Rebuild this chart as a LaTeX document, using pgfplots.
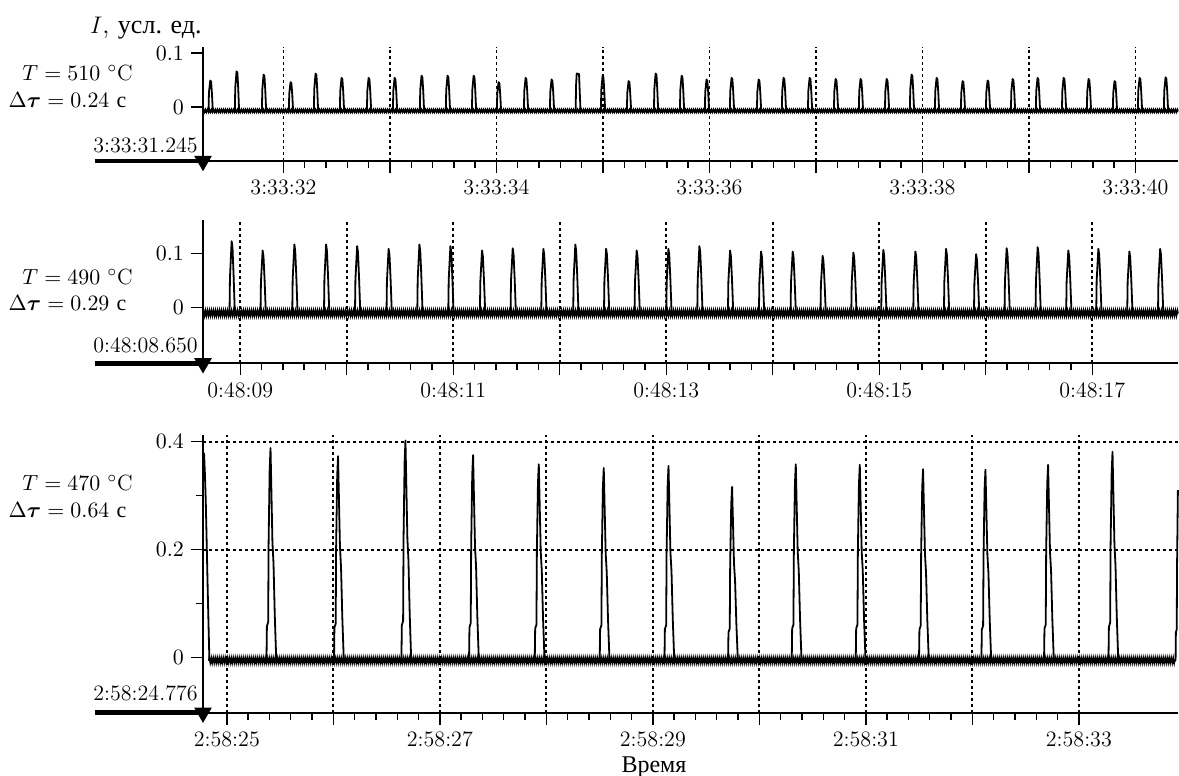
\documentclass[border=0pt]{standalone}
\usepackage{amsmath}
\usepackage{fontspec}
\newfontfamily\cyr{Liberation Serif}
\usepackage{pgfplots}
\pgfplotsset{compat=1.18}
\usetikzlibrary{decorations.pathmorphing}
\newcommand{\fs}{\fontsize{11}{13}\selectfont}
\pgfplotsset{
  panel/.style={
    scale only axis, width=487.5pt,
    axis lines*=left,
    axis line style={line width=0.9pt},
    tick align=outside,
    major tick length=6pt, minor tick length=3.5pt,
    tick style={black, line width=0.7pt},
    minor x tick num=4,
    xmajorgrids,
    major grid style={black, line width=0.9pt, dash pattern=on 1.5pt off 1.5pt},
    tick label style={font=\fs},
    clip=false,
    anchor=south west,
  },
  trace/.style={black, line width=0.9pt, line join=round},
  noise/.style 2 args={black, line width=0.7pt, decorate, decoration={zigzag, segment length=#1, amplitude=#2}},
  startline/.style={black, line width=2.3pt},
  startmark/.style={only marks, mark=triangle*, mark size=4.6pt, mark options={rotate=180, fill=black, draw=black, line width=0.5pt}},
}
\begin{document}
\begin{tikzpicture}
\useasboundingbox (0,0) rectangle (589.5pt,-388pt);

% ---------------- panel 1 ----------------
\begin{axis}[panel, at={(101.5pt,-80.5pt)}, height=57.24pt,
  xmin=31.245, xmax=40.4, ymin=-0.1, ymax=0.112,
  xtick={32,33,...,40}, xticklabels={3:33:32,{},3:33:34,{},3:33:36,{},3:33:38,{},3:33:40},
  ytick={0,0.1}]
\addplot[noise={1.0pt}{0.7pt}] coordinates {(31.245,-0.007) (40.4,-0.007)};
\addplot[noise={1.7pt}{0.45pt}] coordinates {(31.245,-0.008) (40.4,-0.008)};
\addplot[trace] coordinates {
(31.245,-0.007)
(31.297,-0.007)(31.301,0.027)(31.313,0.049)(31.321,0.047)(31.329,0.025)(31.337,-0.007)
(31.544,-0.007)(31.548,0.036)(31.560,0.066)(31.568,0.063)(31.576,0.033)(31.584,-0.007)
(31.798,-0.007)(31.802,0.033)(31.814,0.060)(31.822,0.057)(31.830,0.030)(31.838,-0.007)
(32.051,-0.007)(32.055,0.025)(32.067,0.046)(32.075,0.044)(32.083,0.023)(32.091,-0.007)
(32.286,-0.007)(32.290,0.034)(32.302,0.062)(32.310,0.059)(32.318,0.031)(32.326,-0.007)
(32.530,-0.007)(32.534,0.030)(32.546,0.054)(32.554,0.051)(32.562,0.027)(32.570,-0.007)
(32.784,-0.007)(32.788,0.030)(32.800,0.054)(32.808,0.051)(32.816,0.027)(32.824,-0.007)
(33.028,-0.007)(33.032,0.030)(33.044,0.054)(33.052,0.051)(33.060,0.027)(33.068,-0.007)
(33.281,-0.007)(33.285,0.032)(33.297,0.058)(33.305,0.055)(33.313,0.029)(33.321,-0.007)
(33.525,-0.007)(33.529,0.032)(33.541,0.058)(33.549,0.055)(33.557,0.029)(33.565,-0.007)
(33.770,-0.007)(33.774,0.032)(33.786,0.058)(33.794,0.055)(33.802,0.029)(33.810,-0.007)
(34.004,-0.007)(34.008,0.025)(34.020,0.046)(34.028,0.044)(34.036,0.023)(34.044,-0.007)
(34.258,-0.007)(34.262,0.030)(34.274,0.054)(34.282,0.051)(34.290,0.027)(34.298,-0.007)
(34.502,-0.007)(34.506,0.028)(34.518,0.051)(34.526,0.048)(34.534,0.026)(34.542,-0.007)
(34.744,-0.007)(34.748,0.040)(34.754,0.062)(34.776,0.061)(34.782,0.030)(34.790,-0.007)
(34.981,-0.007)(34.985,0.032)(34.997,0.058)(35.005,0.055)(35.013,0.029)(35.021,-0.007)
(35.225,-0.007)(35.229,0.026)(35.241,0.048)(35.249,0.046)(35.257,0.024)(35.265,-0.007)
(35.479,-0.007)(35.483,0.034)(35.495,0.062)(35.503,0.059)(35.511,0.031)(35.519,-0.007)
(35.723,-0.007)(35.727,0.032)(35.739,0.058)(35.747,0.055)(35.755,0.029)(35.763,-0.007)
(35.957,-0.007)(35.961,0.028)(35.973,0.051)(35.981,0.048)(35.989,0.026)(35.997,-0.007)
(36.192,-0.007)(36.196,0.030)(36.208,0.054)(36.216,0.051)(36.224,0.027)(36.232,-0.007)
(36.446,-0.007)(36.450,0.028)(36.462,0.051)(36.470,0.048)(36.478,0.026)(36.486,-0.007)
(36.680,-0.007)(36.684,0.030)(36.696,0.054)(36.704,0.051)(36.712,0.027)(36.720,-0.007)
(36.925,-0.007)(36.929,0.030)(36.941,0.054)(36.949,0.051)(36.957,0.027)(36.965,-0.007)
(37.169,-0.007)(37.173,0.029)(37.185,0.052)(37.193,0.049)(37.201,0.026)(37.209,-0.007)
(37.403,-0.007)(37.407,0.029)(37.419,0.052)(37.427,0.049)(37.435,0.026)(37.443,-0.007)
(37.648,-0.007)(37.652,0.029)(37.664,0.052)(37.672,0.049)(37.680,0.026)(37.688,-0.007)
(37.882,-0.007)(37.886,0.033)(37.898,0.060)(37.906,0.057)(37.914,0.030)(37.922,-0.007)
(38.117,-0.007)(38.121,0.030)(38.133,0.054)(38.141,0.051)(38.149,0.027)(38.157,-0.007)
(38.361,-0.007)(38.365,0.026)(38.377,0.048)(38.385,0.046)(38.393,0.024)(38.401,-0.007)
(38.596,-0.007)(38.600,0.027)(38.612,0.049)(38.620,0.047)(38.628,0.025)(38.636,-0.007)
(38.831,-0.007)(38.835,0.029)(38.847,0.052)(38.855,0.049)(38.863,0.026)(38.871,-0.007)
(39.065,-0.007)(39.069,0.030)(39.081,0.054)(39.089,0.051)(39.097,0.027)(39.105,-0.007)
(39.310,-0.007)(39.314,0.030)(39.326,0.054)(39.334,0.051)(39.342,0.027)(39.350,-0.007)
(39.544,-0.007)(39.548,0.029)(39.560,0.052)(39.568,0.049)(39.576,0.026)(39.584,-0.007)
(39.788,-0.007)(39.792,0.026)(39.804,0.048)(39.812,0.046)(39.820,0.024)(39.828,-0.007)
(40.023,-0.007)(40.027,0.030)(40.039,0.054)(40.047,0.051)(40.055,0.027)(40.063,-0.007)
(40.267,-0.007)(40.271,0.030)(40.283,0.055)(40.291,0.052)(40.299,0.028)(40.307,-0.007)
(40.400,-0.007)};
\addplot[startline] coordinates {(30.231,-0.1) (31.245,-0.1)};
\addplot[startmark] coordinates {(31.245,-0.1)};
\end{axis}

% ---------------- panel 2 ----------------
\begin{axis}[panel, at={(101.5pt,-181.65pt)}, height=71.55pt,
  xmin=8.65, xmax=17.805, ymin=-0.103, ymax=0.162,
  xtick={9,10,...,17}, xticklabels={0:48:09,{},0:48:11,{},0:48:13,{},0:48:15,{},0:48:17},
  ytick={0,0.1}]
\addplot[noise={1.0pt}{1.4pt}] coordinates {(8.65,-0.010) (17.805,-0.010)};
\addplot[noise={1.7pt}{0.9pt}] coordinates {(8.65,-0.011) (17.805,-0.011)};
\addplot[trace] coordinates {
(8.650,-0.010)
(8.899,-0.010)(8.903,0.055)(8.919,0.123)(8.927,0.111)(8.937,0.062)(8.949,-0.010)
(9.190,-0.010)(9.194,0.048)(9.210,0.106)(9.218,0.095)(9.228,0.053)(9.240,-0.010)
(9.488,-0.010)(9.492,0.053)(9.508,0.117)(9.516,0.105)(9.526,0.059)(9.538,-0.010)
(9.786,-0.010)(9.790,0.053)(9.806,0.117)(9.814,0.105)(9.824,0.059)(9.836,-0.010)
(10.077,-0.010)(10.081,0.051)(10.097,0.114)(10.105,0.103)(10.115,0.057)(10.127,-0.010)
(10.373,-0.010)(10.377,0.049)(10.393,0.109)(10.401,0.098)(10.411,0.055)(10.423,-0.010)
(10.662,-0.010)(10.666,0.053)(10.682,0.117)(10.690,0.105)(10.700,0.059)(10.712,-0.010)
(10.953,-0.010)(10.957,0.051)(10.973,0.114)(10.981,0.103)(10.991,0.057)(11.003,-0.010)
(11.250,-0.010)(11.254,0.048)(11.270,0.106)(11.278,0.095)(11.288,0.053)(11.300,-0.010)
(11.538,-0.010)(11.542,0.050)(11.558,0.110)(11.566,0.099)(11.576,0.055)(11.588,-0.010)
(11.826,-0.010)(11.830,0.049)(11.846,0.109)(11.854,0.098)(11.864,0.055)(11.876,-0.010)
(12.126,-0.010)(12.130,0.053)(12.146,0.117)(12.154,0.105)(12.164,0.059)(12.176,-0.010)
(12.415,-0.010)(12.419,0.049)(12.435,0.109)(12.443,0.098)(12.453,0.055)(12.465,-0.010)
(12.702,-0.010)(12.706,0.048)(12.722,0.106)(12.730,0.095)(12.740,0.053)(12.752,-0.010)
(13.000,-0.010)(13.004,0.049)(13.020,0.109)(13.028,0.098)(13.038,0.055)(13.050,-0.010)
(13.291,-0.010)(13.295,0.051)(13.311,0.114)(13.319,0.103)(13.329,0.057)(13.341,-0.010)
(13.579,-0.010)(13.583,0.048)(13.599,0.106)(13.607,0.095)(13.617,0.053)(13.629,-0.010)
(13.870,-0.010)(13.874,0.047)(13.890,0.104)(13.898,0.094)(13.908,0.052)(13.920,-0.010)
(14.167,-0.010)(14.171,0.047)(14.187,0.104)(14.195,0.094)(14.205,0.052)(14.217,-0.010)
(14.448,-0.010)(14.452,0.043)(14.468,0.096)(14.476,0.086)(14.486,0.048)(14.498,-0.010)
(14.737,-0.010)(14.741,0.046)(14.757,0.102)(14.765,0.092)(14.775,0.051)(14.787,-0.010)
(15.018,-0.010)(15.022,0.048)(15.038,0.107)(15.046,0.096)(15.056,0.054)(15.068,-0.010)
(15.319,-0.010)(15.323,0.047)(15.339,0.104)(15.347,0.094)(15.357,0.052)(15.369,-0.010)
(15.607,-0.010)(15.611,0.049)(15.627,0.109)(15.635,0.098)(15.645,0.055)(15.657,-0.010)
(15.889,-0.010)(15.893,0.045)(15.909,0.099)(15.917,0.089)(15.927,0.050)(15.939,-0.010)
(16.176,-0.010)(16.180,0.050)(16.196,0.110)(16.204,0.099)(16.214,0.055)(16.226,-0.010)
(16.467,-0.010)(16.471,0.050)(16.487,0.112)(16.495,0.101)(16.505,0.056)(16.517,-0.010)
(16.755,-0.010)(16.759,0.048)(16.775,0.106)(16.783,0.095)(16.793,0.053)(16.805,-0.010)
(17.037,-0.010)(17.041,0.049)(17.057,0.109)(17.065,0.098)(17.075,0.055)(17.087,-0.010)
(17.328,-0.010)(17.332,0.047)(17.348,0.104)(17.356,0.094)(17.366,0.052)(17.378,-0.010)
(17.617,-0.010)(17.621,0.049)(17.637,0.109)(17.645,0.098)(17.655,0.055)(17.667,-0.010)
(17.805,-0.010)};
\addplot[startline] coordinates {(7.636,-0.103) (8.65,-0.103)};
\addplot[startmark] coordinates {(8.65,-0.103)};
\end{axis}

% ---------------- panel 3 ----------------
\begin{axis}[panel, at={(101.5pt,-356.35pt)}, height=138.78pt,
  xmin=24.776, xmax=33.931, ymin=-0.102, ymax=0.412,
  xtick={25,26,...,33}, xticklabels={2:58:25,{},2:58:27,{},2:58:29,{},2:58:31,{},2:58:33},
  ytick={0.2,0.4}, ymajorgrids, extra y ticks={0}, extra y tick style={grid=none},
  minor ytick={0.1,0.3},
  yticklabel style={/pgf/number format/fixed, /pgf/number format/precision=1}]
\addplot[noise={1.0pt}{1.4pt}] coordinates {(24.83,-0.005) (33.908,-0.005)};
\addplot[noise={1.7pt}{0.9pt}] coordinates {(24.83,-0.006) (33.908,-0.006)};
\addplot[trace] coordinates {
(24.776,0.365)(24.786,0.378)(24.794,0.340)(24.802,0.290)(24.812,0.200)(24.822,0.110)(24.836,-0.005)
(25.372,-0.005)(25.376,0.058)(25.388,0.066)(25.392,0.213)(25.402,0.349)(25.410,0.388)(25.420,0.291)(25.428,0.213)(25.438,0.175)(25.450,0.078)(25.464,-0.005)
(26.006,-0.005)(26.010,0.056)(26.022,0.063)(26.026,0.205)(26.036,0.336)(26.044,0.373)(26.054,0.280)(26.062,0.205)(26.072,0.168)(26.084,0.075)(26.098,-0.005)
(26.639,-0.005)(26.643,0.060)(26.655,0.068)(26.659,0.221)(26.669,0.362)(26.677,0.402)(26.687,0.302)(26.695,0.221)(26.705,0.181)(26.717,0.080)(26.731,-0.005)
(27.274,-0.005)(27.278,0.056)(27.290,0.064)(27.294,0.206)(27.304,0.338)(27.312,0.375)(27.322,0.281)(27.330,0.206)(27.340,0.169)(27.352,0.075)(27.366,-0.005)
(27.891,-0.005)(27.895,0.054)(27.907,0.061)(27.911,0.197)(27.921,0.322)(27.929,0.358)(27.939,0.269)(27.947,0.197)(27.957,0.161)(27.969,0.072)(27.983,-0.005)
(28.501,-0.005)(28.505,0.053)(28.517,0.060)(28.521,0.193)(28.531,0.316)(28.539,0.351)(28.549,0.263)(28.557,0.193)(28.567,0.158)(28.579,0.070)(28.593,-0.005)
(29.109,-0.005)(29.113,0.053)(29.125,0.060)(29.129,0.195)(29.139,0.320)(29.147,0.355)(29.157,0.266)(29.165,0.195)(29.175,0.160)(29.187,0.071)(29.201,-0.005)
(29.706,-0.005)(29.710,0.047)(29.722,0.054)(29.726,0.174)(29.736,0.284)(29.744,0.316)(29.754,0.237)(29.762,0.174)(29.772,0.142)(29.784,0.063)(29.798,-0.005)
(30.304,-0.005)(30.308,0.054)(30.320,0.061)(30.324,0.197)(30.334,0.322)(30.342,0.358)(30.352,0.269)(30.360,0.197)(30.370,0.161)(30.382,0.072)(30.396,-0.005)
(30.905,-0.005)(30.909,0.054)(30.921,0.061)(30.925,0.196)(30.935,0.321)(30.943,0.357)(30.953,0.268)(30.961,0.196)(30.971,0.161)(30.983,0.071)(30.997,-0.005)
(31.499,-0.005)(31.503,0.052)(31.515,0.059)(31.519,0.192)(31.529,0.314)(31.537,0.349)(31.547,0.262)(31.555,0.192)(31.565,0.157)(31.577,0.070)(31.591,-0.005)
(32.085,-0.005)(32.089,0.052)(32.101,0.059)(32.105,0.191)(32.115,0.313)(32.123,0.348)(32.133,0.261)(32.141,0.191)(32.151,0.157)(32.163,0.070)(32.177,-0.005)
(32.673,-0.005)(32.677,0.054)(32.689,0.061)(32.693,0.196)(32.703,0.321)(32.711,0.357)(32.721,0.268)(32.729,0.196)(32.739,0.161)(32.751,0.071)(32.765,-0.005)
(33.278,-0.005)(33.282,0.057)(33.294,0.065)(33.298,0.210)(33.308,0.343)(33.316,0.381)(33.326,0.286)(33.334,0.210)(33.344,0.171)(33.356,0.076)(33.370,-0.005)
(33.908,-0.005)(33.911,0.047)(33.919,0.052)(33.922,0.170)(33.930,0.310)};
\addplot[startline] coordinates {(23.762,-0.102) (24.776,-0.102)};
\addplot[startmark] coordinates {(24.776,-0.102)};
\end{axis}

% ---------------- texts ----------------
\node[font=\fontsize{13}{15}\selectfont, anchor=east, inner sep=0pt] at (101pt,-14pt) {$I$, {\cyr усл. ед.}};
\node[font=\fs] at (38.75pt,-36.5pt) {$T = 510$ $^{\circ}$C};
\node[font=\fs] at (33.75pt,-50pt) {$\Delta\boldsymbol{\tau} = 0.24$ {\cyr с}};
\node[font=\fs, anchor=east, inner sep=0pt] at (99pt,-72.5pt) {3:33:31.245};

\node[font=\fs] at (38.75pt,-138.3pt) {$T = 490$ $^{\circ}$C};
\node[font=\fs] at (33.75pt,-151.5pt) {$\Delta\boldsymbol{\tau} = 0.29$ {\cyr с}};
\node[font=\fs, anchor=east, inner sep=0pt] at (99pt,-172.5pt) {0:48:08.650};

\node[font=\fs] at (38.75pt,-241.5pt) {$T = 470$ $^{\circ}$C};
\node[font=\fs] at (33.75pt,-255pt) {$\Delta\boldsymbol{\tau} = 0.64$ {\cyr с}};
\node[font=\fs, anchor=east, inner sep=0pt] at (99pt,-346.5pt) {2:58:24.776};

\node[font=\fontsize{12}{14}\selectfont] at (327pt,-383.5pt) {{\cyr Время}};
\end{tikzpicture}
\end{document}
